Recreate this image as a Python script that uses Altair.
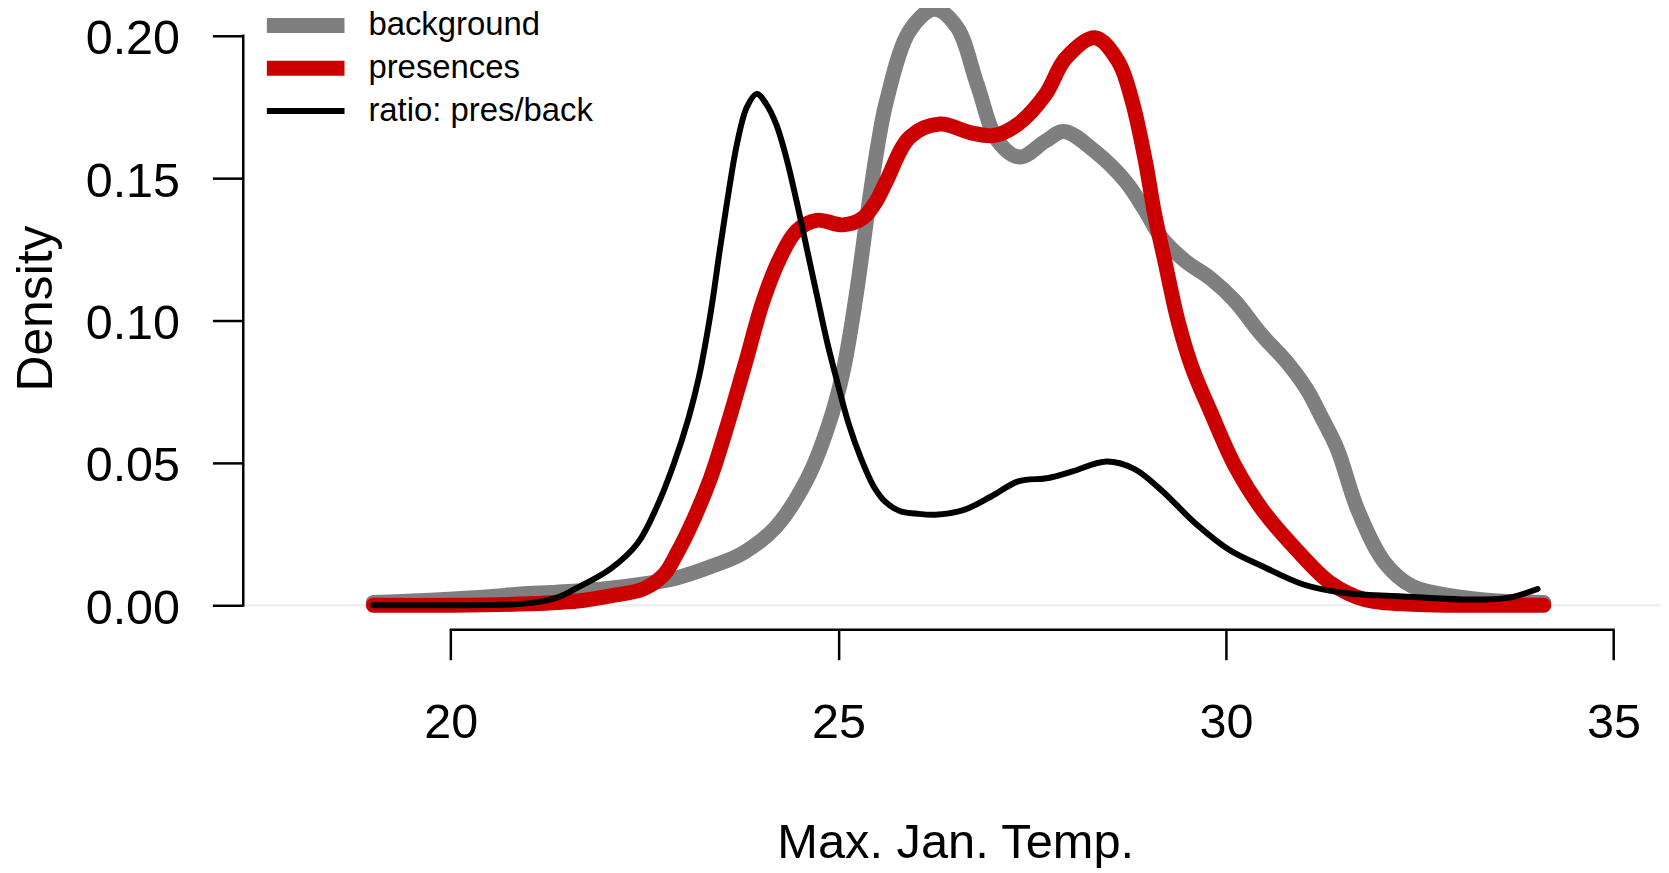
import altair as alt
import pandas as pd

SERIES = ["background", "presences", "ratio: pres/back"]
COLORS = ["#7f7f7f", "#cc0000", "#000000"]
WIDTHS = [15, 15, 6]

# background density (gray)
bg_x = [19.0, 19.5, 20.03, 20.5, 20.9, 21.3, 21.635, 22.0, 22.49, 22.9, 23.35, 23.78,
        24.2, 24.6, 24.87, 25.06, 25.23, 25.38, 25.51, 25.62, 25.92, 26.24, 26.53,
        26.79, 27.05, 27.34, 27.67, 27.91, 28.31, 28.7, 28.96, 29.17, 29.47, 29.81,
        30.11, 30.45, 30.8, 31.05, 31.23, 31.44, 31.7, 32.05, 32.4, 32.93, 33.5, 34.1]
bg_y = [0.001, 0.0015, 0.0022, 0.003, 0.004, 0.0045, 0.005, 0.0058, 0.0075, 0.0095,
        0.0135, 0.0185, 0.0277, 0.0445, 0.063, 0.082, 0.109, 0.1385, 0.1618, 0.177,
        0.2018, 0.2093, 0.203, 0.183, 0.1633, 0.1574, 0.163, 0.1664, 0.1594, 0.149,
        0.1385, 0.129, 0.121, 0.1146, 0.107, 0.0953, 0.0849, 0.0755, 0.0662, 0.0546,
        0.0335, 0.0149, 0.0067, 0.0032, 0.0015, 0.001]

# presences density (red)
pr_x = [19.0, 20.0, 21.0, 21.635, 22.06, 22.49, 22.75, 22.92, 23.13, 23.35, 23.56,
        23.8, 24.03, 24.25, 24.46, 24.72, 25.06, 25.32, 25.49, 25.62, 25.92, 26.31,
        26.7, 27.01, 27.32, 27.67, 27.93, 28.31, 28.61, 28.79, 28.96, 29.08, 29.21,
        29.38, 29.56, 29.81, 30.12, 30.47, 30.91, 31.35, 31.79, 32.4, 33.0, 34.1]
pr_y = [0.0, 0.0, 0.0005, 0.0015, 0.0033, 0.0058, 0.0108, 0.0184, 0.030, 0.0446,
        0.0625, 0.085, 0.107, 0.1221, 0.1315, 0.1352, 0.1336, 0.1361, 0.142, 0.149,
        0.1644, 0.169, 0.166, 0.165, 0.169, 0.1793, 0.192, 0.1993, 0.191, 0.177,
        0.156, 0.1373, 0.121, 0.100, 0.0837, 0.0674, 0.0487, 0.0335, 0.0195, 0.0078,
        0.002, 0.0003, 0.0, 0.0]

# ratio pres/back (black)
ra_x = [19.0, 20.0, 20.8, 21.1, 21.4, 21.635, 22.06, 22.41, 22.66, 22.88, 23.07, 23.2,
        23.35, 23.475, 23.58, 23.69, 23.82, 23.947, 24.07, 24.2, 24.33, 24.46, 24.59,
        24.72, 24.85, 24.98, 25.13, 25.3, 25.45, 25.6, 25.8, 26.0, 26.25, 26.62, 26.97,
        27.32, 27.71, 28.02, 28.46, 28.81, 29.16, 29.6, 30.04, 30.47, 31.0, 31.53,
        32.23, 33.1, 33.63, 34.02]
ra_y = [0.0, 0.0, 0.0003, 0.001, 0.003, 0.0062, 0.0128, 0.0218, 0.0347, 0.0499, 0.066,
        0.08, 0.1023, 0.1256, 0.1443, 0.1618, 0.175, 0.1796, 0.176, 0.1688, 0.157,
        0.142, 0.1256, 0.1093, 0.093, 0.079, 0.064, 0.051, 0.042, 0.0365, 0.033,
        0.0322, 0.0318, 0.0335, 0.0382, 0.0435, 0.0447, 0.047, 0.0505, 0.048, 0.0406,
        0.0289, 0.0195, 0.0137, 0.0073, 0.0043, 0.0032, 0.002, 0.0026, 0.0057]

X_TICKS = [20, 25, 30, 35]
Y_TICKS = [0.0, 0.05, 0.10, 0.15, 0.20]
X_DOMAIN = [17.323, 35.509]
Y_DOMAIN = [-0.00864, 0.20909]
W, H = 1416, 622.7
FONT = "Liberation Sans"

rows = []
for name, xs_, ys_ in zip(SERIES, [bg_x, pr_x, ra_x], [bg_y, pr_y, ra_y]):
    for i, (xv, yv) in enumerate(zip(xs_, ys_)):
        rows.append({"series": name, "x": xv, "y": yv, "order": i})
df = pd.DataFrame(rows)

xscale = alt.Scale(domain=X_DOMAIN, nice=False, zero=False)
yscale = alt.Scale(domain=Y_DOMAIN, nice=False, zero=False)

x_axis = alt.Axis(values=X_TICKS, format="d", domain=False, grid=False,
                  tickSize=30, tickWidth=2.5, tickColor="black",
                  labelFont=FONT, labelFontSize=48.7, labelColor="black",
                  labelPadding=40, labelFlush=False, labelOverlap=False,
                  title="Max. Jan. Temp.", titleFont=FONT, titleFontSize=49,
                  titleFontWeight="normal", titleColor="black",
                  titleX=715.1, titleY=228.3, titleAlign="center",
                  titleBaseline="alphabetic", titleAngle=0)
y_axis = alt.Axis(values=Y_TICKS, format=".2f", domain=False, grid=False,
                  tickSize=31, tickWidth=2.5, tickColor="black",
                  labelFont=FONT, labelFontSize=48.7, labelColor="black",
                  labelPadding=33, labelOffset=3, labelFlush=False, labelOverlap=False,
                  title="Density", titleFont=FONT, titleFontSize=50,
                  titleFontWeight="normal", titleColor="black",
                  titleX=-192.6, titleY=299.5, titleAlign="center",
                  titleBaseline="alphabetic", titleAngle=270)

legend = alt.Legend(title=None, orient="none", legendX=16.2, legendY=-5.5,
                    symbolType="stroke", symbolSize=6084, symbolOpacity=1,
                    labelFont=FONT, labelFontSize=33, labelColor="black",
                    labelLimit=0, labelOffset=16.5, clipHeight=42.3,
                    rowPadding=0, padding=0)

zero_df = pd.DataFrame({"y": [0.0]})
zero_line = alt.Chart(zero_df).mark_rule(color="#ececec", strokeWidth=2).encode(
    y=alt.Y("y:Q", scale=yscale, axis=y_axis),
    x=alt.value(0), x2=alt.value(W + 8))

yline_df = pd.DataFrame({"y0": [min(Y_TICKS)], "y1": [max(Y_TICKS)]})
y_line = alt.Chart(yline_df).mark_rule(color="black", strokeWidth=2.5, strokeCap="square").encode(
    y=alt.Y("y0:Q", scale=yscale, axis=y_axis), y2="y1:Q", x=alt.value(0))

xline_df = pd.DataFrame({"x0": [min(X_TICKS)], "x1": [max(X_TICKS)]})
x_line = alt.Chart(xline_df).mark_rule(color="black", strokeWidth=2.5, strokeCap="square").encode(
    x=alt.X("x0:Q", scale=xscale, axis=x_axis), x2="x1:Q", y=alt.value(H))

lines = alt.Chart(df).mark_line(interpolate="catmull-rom", strokeCap="round", strokeJoin="round").encode(
    x=alt.X("x:Q", scale=xscale, axis=x_axis),
    y=alt.Y("y:Q", scale=yscale, axis=y_axis),
    color=alt.Color("series:N", scale=alt.Scale(domain=SERIES, range=COLORS), legend=legend, sort=SERIES),
    strokeWidth=alt.StrokeWidth("series:N", scale=alt.Scale(type="ordinal", domain=SERIES, range=WIDTHS),
                                legend=legend, sort=SERIES),
    order=alt.Order("order:Q"),
)

chart = alt.layer(zero_line, y_line, x_line, lines).properties(
    width=W, height=H,
    padding={"left": 236.3, "top": 0, "right": 8, "bottom": 242},
    autosize=alt.AutoSizeParams(type="none"),
    background="white",
).configure_view(stroke=None)

chart.save("out.html", embed_options={"renderer": "svg", "actions": False})
